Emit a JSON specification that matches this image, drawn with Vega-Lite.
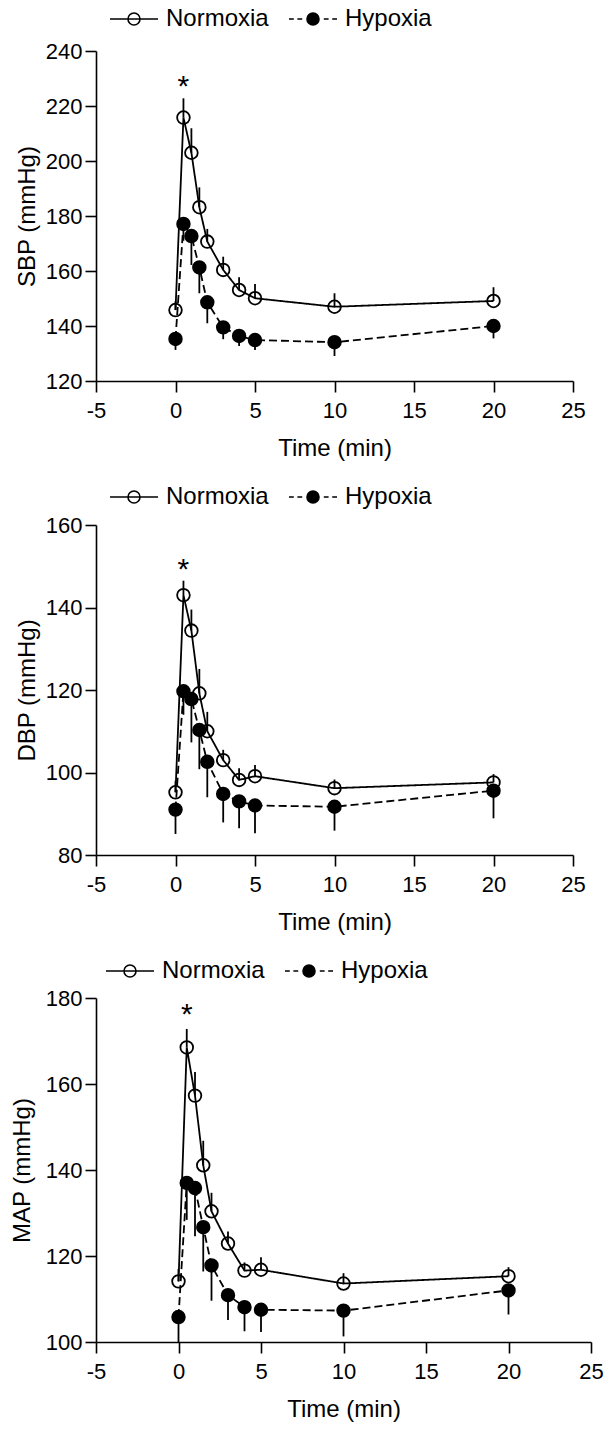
{
  "$schema": "https://vega.github.io/schema/vega-lite/v6.json",
  "padding": {"left": 10, "top": -6, "right": 5, "bottom": 5},
  "background": "white",
  "spacing": 12,
  "resolve": {"scale": {"fill": "independent", "strokeDash": "independent", "shape": "independent"}, "legend": {"fill": "independent", "shape": "independent"}},
  "config": {
    "font": "Liberation Sans",
    "view": {"stroke": null},
    "axis": {
      "grid": false,
      "domainColor": "black", "domainWidth": 1.6,
      "tickColor": "black", "tickWidth": 1.6, "tickSize": 11,
      "labelColor": "black", "labelFont": "Liberation Sans", "labelFontSize": 22, "labelPadding": 3,
      "labelFlush": false, "labelOverlap": false, "labelExpr": "'' + datum.value",
      "titleColor": "black", "titleFont": "Liberation Sans", "titleFontSize": 24, "titleFontWeight": "normal"
    },
    "axisY": {"titlePadding": 6},
    "axisX": {"titlePadding": 15, "labelPadding": 8},
    "legend": {
      "direction": "horizontal", "title": null,
      "labelFont": "Liberation Sans", "labelFontSize": 24, "labelColor": "black",
      "labelOffset": 7, "columnPadding": 16, "symbolSize": 2304,
      "symbolStrokeColor": "black", "symbolStrokeWidth": 1.6
    }
  },
  "datasets": {
    "sbp": [
      {"group": "Normoxia", "t": 0, "mean": 145.8, "bar": 149},
      {"group": "Normoxia", "t": 0.5, "mean": 215.8, "bar": 222.8},
      {"group": "Normoxia", "t": 1, "mean": 203, "bar": 211.9},
      {"group": "Normoxia", "t": 1.5, "mean": 183.2, "bar": 190.4},
      {"group": "Normoxia", "t": 2, "mean": 170.7, "bar": 175.3},
      {"group": "Normoxia", "t": 3, "mean": 160.4, "bar": 165.2},
      {"group": "Normoxia", "t": 4, "mean": 153.1, "bar": 157.7},
      {"group": "Normoxia", "t": 5, "mean": 150.1, "bar": 155.3},
      {"group": "Normoxia", "t": 10, "mean": 147.0, "bar": 151.9},
      {"group": "Normoxia", "t": 20, "mean": 149.1, "bar": 154.1},
      {"group": "Hypoxia", "t": 0, "mean": 135.3, "bar": 131.3},
      {"group": "Hypoxia", "t": 0.5, "mean": 177.1, "bar": 171},
      {"group": "Hypoxia", "t": 1, "mean": 172.7, "bar": 162.2},
      {"group": "Hypoxia", "t": 1.5, "mean": 161.3, "bar": 151.9},
      {"group": "Hypoxia", "t": 2, "mean": 148.6, "bar": 141},
      {"group": "Hypoxia", "t": 3, "mean": 139.5, "bar": 135.2},
      {"group": "Hypoxia", "t": 4, "mean": 136.4, "bar": 132.7},
      {"group": "Hypoxia", "t": 5, "mean": 134.9, "bar": 131.3},
      {"group": "Hypoxia", "t": 10, "mean": 134.1, "bar": 129.1},
      {"group": "Hypoxia", "t": 20, "mean": 140, "bar": 135.5}
    ],
    "dbp": [
      {"group": "Normoxia", "t": 0, "mean": 95.2, "bar": 98},
      {"group": "Normoxia", "t": 0.5, "mean": 143.0, "bar": 146.5},
      {"group": "Normoxia", "t": 1, "mean": 134.4, "bar": 139.5},
      {"group": "Normoxia", "t": 1.5, "mean": 119.2, "bar": 125.1},
      {"group": "Normoxia", "t": 2, "mean": 110, "bar": 114.7},
      {"group": "Normoxia", "t": 3, "mean": 103, "bar": 105.5},
      {"group": "Normoxia", "t": 4, "mean": 98.2, "bar": 101},
      {"group": "Normoxia", "t": 5, "mean": 99.1, "bar": 101.8},
      {"group": "Normoxia", "t": 10, "mean": 96.2, "bar": 98.3},
      {"group": "Normoxia", "t": 20, "mean": 97.6, "bar": 99.6},
      {"group": "Hypoxia", "t": 0, "mean": 91.0, "bar": 85.1},
      {"group": "Hypoxia", "t": 0.5, "mean": 119.7, "bar": 114},
      {"group": "Hypoxia", "t": 1, "mean": 117.8, "bar": 107.3},
      {"group": "Hypoxia", "t": 1.5, "mean": 110.3, "bar": 100.8},
      {"group": "Hypoxia", "t": 2, "mean": 102.6, "bar": 94},
      {"group": "Hypoxia", "t": 3, "mean": 94.8, "bar": 87.9},
      {"group": "Hypoxia", "t": 4, "mean": 93, "bar": 86.5},
      {"group": "Hypoxia", "t": 5, "mean": 92, "bar": 85.3},
      {"group": "Hypoxia", "t": 10, "mean": 91.7, "bar": 85.9},
      {"group": "Hypoxia", "t": 20, "mean": 95.6, "bar": 88.9}
    ],
    "map": [
      {"group": "Normoxia", "t": 0, "mean": 114.1, "bar": 117},
      {"group": "Normoxia", "t": 0.5, "mean": 168.5, "bar": 172.8},
      {"group": "Normoxia", "t": 1, "mean": 157.3, "bar": 162.8},
      {"group": "Normoxia", "t": 1.5, "mean": 141.1, "bar": 146.8},
      {"group": "Normoxia", "t": 2, "mean": 130.4, "bar": 134.7},
      {"group": "Normoxia", "t": 3, "mean": 122.9, "bar": 125.7},
      {"group": "Normoxia", "t": 4, "mean": 116.6, "bar": 118.5},
      {"group": "Normoxia", "t": 5, "mean": 116.8, "bar": 119.7},
      {"group": "Normoxia", "t": 10, "mean": 113.6, "bar": 116},
      {"group": "Normoxia", "t": 20, "mean": 115.3, "bar": 117.4},
      {"group": "Hypoxia", "t": 0, "mean": 105.8, "bar": 99.8},
      {"group": "Hypoxia", "t": 0.5, "mean": 137, "bar": 128.4},
      {"group": "Hypoxia", "t": 1, "mean": 135.8, "bar": 124.6},
      {"group": "Hypoxia", "t": 1.5, "mean": 126.7, "bar": 116.4},
      {"group": "Hypoxia", "t": 2, "mean": 117.8, "bar": 109.6},
      {"group": "Hypoxia", "t": 3, "mean": 110.9, "bar": 105.1},
      {"group": "Hypoxia", "t": 4, "mean": 108.1, "bar": 102.5},
      {"group": "Hypoxia", "t": 5, "mean": 107.5, "bar": 102.3},
      {"group": "Hypoxia", "t": 10, "mean": 107.3, "bar": 101.3},
      {"group": "Hypoxia", "t": 20, "mean": 112, "bar": 106.4}
    ]
  },
  "vconcat": [
    {
      "width": 477, "height": 330,
      "data": {"name": "sbp"},
      "encoding": {
        "x": {"field": "t", "type": "quantitative", "scale": {"domain": [-5, 25], "nice": false, "zero": false}, "axis": {"values": [-5, 0, 5, 10, 15, 20, 25], "title": "Time (min)"}},
        "y": {"field": "mean", "type": "quantitative", "scale": {"domain": [120, 240], "nice": false, "zero": false}, "axis": {"values": [120, 140, 160, 180, 200, 220, 240], "title": "SBP (mmHg)"}}
      },
      "layer": [
        {"mark": {"type": "rule", "stroke": "black", "strokeWidth": 1.8}, "encoding": {"y2": {"field": "bar"}}},
        {"mark": {"type": "line", "stroke": "black", "strokeWidth": 1.8}, "encoding": {"strokeDash": {"field": "group", "type": "nominal", "scale": {"domain": ["Hypoxia", "Normoxia"], "range": [[8, 4], [1, 0]]}, "legend": null}}},
        {"mark": {"type": "point", "filled": true, "shape": "circle", "size": 160, "stroke": "black", "strokeWidth": 1.8, "opacity": 1},
         "encoding": {"fill": {"field": "group", "type": "nominal", "scale": {"domain": ["Normoxia", "Hypoxia"], "range": ["transparent", "black"]}, "legend": {"orient": "none", "legendX": 13, "legendY": -57}}}},
        {"transform": [{"filter": "false"}],
         "mark": {"type": "point", "filled": true, "stroke": "black", "strokeWidth": 1.6, "opacity": 1},
         "encoding": {
           "fill": {"field": "group", "type": "nominal", "scale": {"domain": ["Normoxia", "Hypoxia"], "range": ["transparent", "black"]}, "legend": {"orient": "none", "legendX": 13, "legendY": -57}},
           "shape": {"field": "group", "type": "nominal", "scale": {"domain": ["Normoxia", "Hypoxia"], "range": ["M-1,0L1,0M0.25,0A0.25,0.25,0,1,1,-0.25,0A0.25,0.25,0,1,1,0.25,0Z", "M-1,0L-0.8,0M-0.65,0L-0.45,0M0.25,0A0.25,0.25,0,1,1,-0.25,0A0.25,0.25,0,1,1,0.25,0ZM0.45,0L0.65,0M0.8,0L1,0"]}, "legend": {"orient": "none", "legendX": 13, "legendY": -57}}}},
        {"data": {"values": [{"t": 0.5, "mean": 228.5, "s": "*"}]}, "mark": {"type": "text", "fontSize": 30, "font": "Liberation Sans", "color": "black", "baseline": "middle", "align": "center", "dy": 4}, "encoding": {"text": {"field": "s"}}}
      ]
    },
    {
      "width": 477, "height": 330,
      "data": {"name": "dbp"},
      "encoding": {
        "x": {"field": "t", "type": "quantitative", "scale": {"domain": [-5, 25], "nice": false, "zero": false}, "axis": {"values": [-5, 0, 5, 10, 15, 20, 25], "title": "Time (min)"}},
        "y": {"field": "mean", "type": "quantitative", "scale": {"domain": [80, 160], "nice": false, "zero": false}, "axis": {"values": [80, 100, 120, 140, 160], "title": "DBP (mmHg)"}}
      },
      "layer": [
        {"mark": {"type": "rule", "stroke": "black", "strokeWidth": 1.8}, "encoding": {"y2": {"field": "bar"}}},
        {"mark": {"type": "line", "stroke": "black", "strokeWidth": 1.8}, "encoding": {"strokeDash": {"field": "group", "type": "nominal", "scale": {"domain": ["Hypoxia", "Normoxia"], "range": [[8, 4], [1, 0]]}, "legend": null}}},
        {"mark": {"type": "point", "filled": true, "shape": "circle", "size": 160, "stroke": "black", "strokeWidth": 1.8, "opacity": 1},
         "encoding": {"fill": {"field": "group", "type": "nominal", "scale": {"domain": ["Normoxia", "Hypoxia"], "range": ["transparent", "black"]}, "legend": {"orient": "none", "legendX": 13, "legendY": -53}}}},
        {"transform": [{"filter": "false"}],
         "mark": {"type": "point", "filled": true, "stroke": "black", "strokeWidth": 1.6, "opacity": 1},
         "encoding": {
           "fill": {"field": "group", "type": "nominal", "scale": {"domain": ["Normoxia", "Hypoxia"], "range": ["transparent", "black"]}, "legend": {"orient": "none", "legendX": 13, "legendY": -53}},
           "shape": {"field": "group", "type": "nominal", "scale": {"domain": ["Normoxia", "Hypoxia"], "range": ["M-1,0L1,0M0.25,0A0.25,0.25,0,1,1,-0.25,0A0.25,0.25,0,1,1,0.25,0Z", "M-1,0L-0.8,0M-0.65,0L-0.45,0M0.25,0A0.25,0.25,0,1,1,-0.25,0A0.25,0.25,0,1,1,0.25,0ZM0.45,0L0.65,0M0.8,0L1,0"]}, "legend": {"orient": "none", "legendX": 13, "legendY": -53}}}},
        {"data": {"values": [{"t": 0.5, "mean": 150.1, "s": "*"}]}, "mark": {"type": "text", "fontSize": 30, "font": "Liberation Sans", "color": "black", "baseline": "middle", "align": "center", "dy": 4}, "encoding": {"text": {"field": "s"}}}
      ]
    },
    {
      "width": 495, "height": 344,
      "data": {"name": "map"},
      "encoding": {
        "x": {"field": "t", "type": "quantitative", "scale": {"domain": [-5, 25], "nice": false, "zero": false}, "axis": {"values": [-5, 0, 5, 10, 15, 20, 25], "title": "Time (min)"}},
        "y": {"field": "mean", "type": "quantitative", "scale": {"domain": [100, 180], "nice": false, "zero": false}, "axis": {"values": [100, 120, 140, 160, 180], "title": "MAP (mmHg)", "titlePadding": 11}}
      },
      "layer": [
        {"mark": {"type": "rule", "stroke": "black", "strokeWidth": 1.8}, "encoding": {"y2": {"field": "bar"}}},
        {"mark": {"type": "line", "stroke": "black", "strokeWidth": 1.8}, "encoding": {"strokeDash": {"field": "group", "type": "nominal", "scale": {"domain": ["Hypoxia", "Normoxia"], "range": [[8, 4], [1, 0]]}, "legend": null}}},
        {"mark": {"type": "point", "filled": true, "shape": "circle", "size": 160, "stroke": "black", "strokeWidth": 1.8, "opacity": 1},
         "encoding": {"fill": {"field": "group", "type": "nominal", "scale": {"domain": ["Normoxia", "Hypoxia"], "range": ["transparent", "black"]}, "legend": {"orient": "none", "legendX": 9, "legendY": -52}}}},
        {"transform": [{"filter": "false"}],
         "mark": {"type": "point", "filled": true, "stroke": "black", "strokeWidth": 1.6, "opacity": 1},
         "encoding": {
           "fill": {"field": "group", "type": "nominal", "scale": {"domain": ["Normoxia", "Hypoxia"], "range": ["transparent", "black"]}, "legend": {"orient": "none", "legendX": 9, "legendY": -52}},
           "shape": {"field": "group", "type": "nominal", "scale": {"domain": ["Normoxia", "Hypoxia"], "range": ["M-1,0L1,0M0.25,0A0.25,0.25,0,1,1,-0.25,0A0.25,0.25,0,1,1,0.25,0Z", "M-1,0L-0.8,0M-0.65,0L-0.45,0M0.25,0A0.25,0.25,0,1,1,-0.25,0A0.25,0.25,0,1,1,0.25,0ZM0.45,0L0.65,0M0.8,0L1,0"]}, "legend": {"orient": "none", "legendX": 9, "legendY": -52}}}},
        {"data": {"values": [{"t": 0.5, "mean": 176.9, "s": "*"}]}, "mark": {"type": "text", "fontSize": 30, "font": "Liberation Sans", "color": "black", "baseline": "middle", "align": "center", "dy": 4}, "encoding": {"text": {"field": "s"}}}
      ]
    }
  ]
}
